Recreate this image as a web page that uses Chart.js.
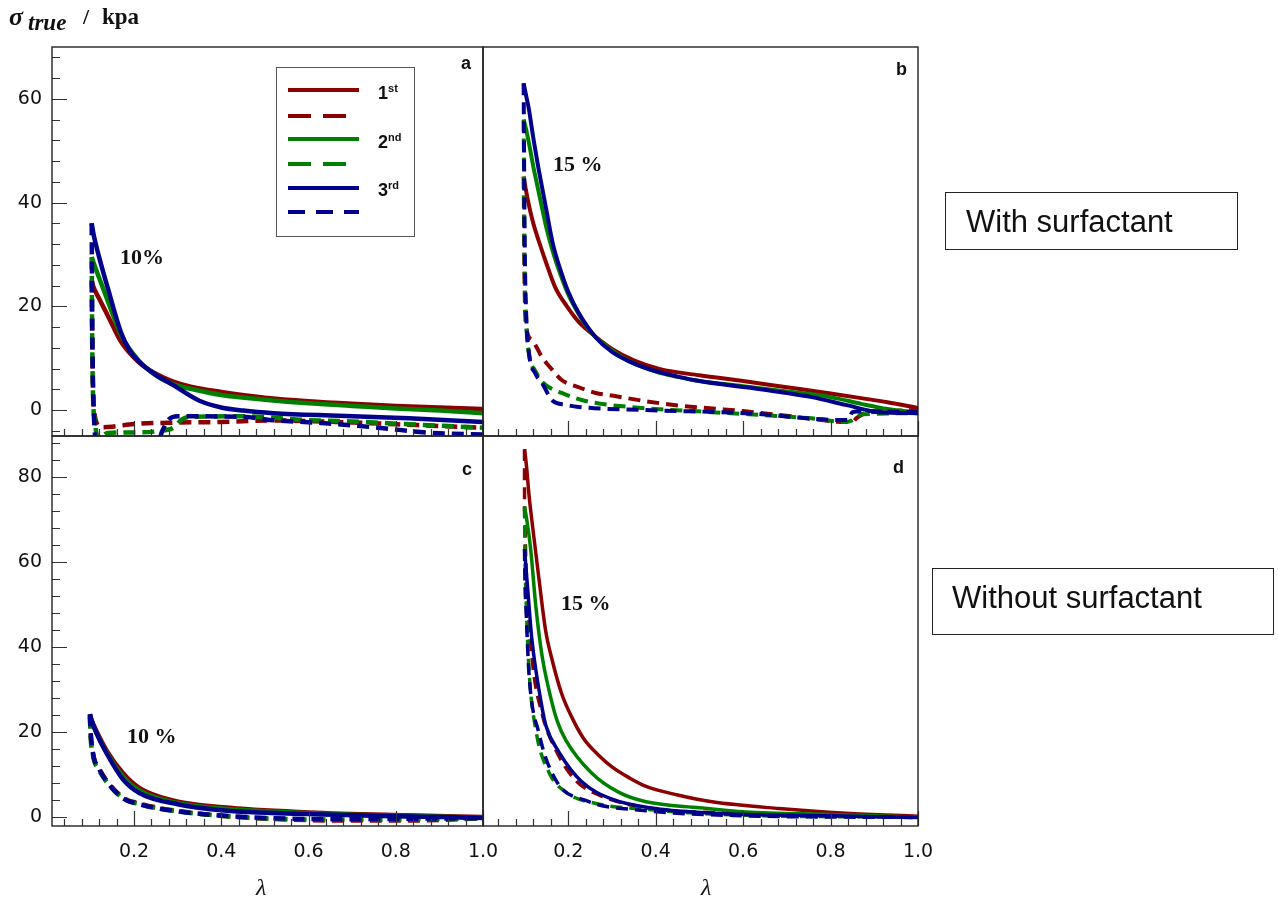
<!DOCTYPE html>
<html>
<head>
<meta charset="utf-8">
<script src="https://cdn.jsdelivr.net/npm/chart.js@4.4.1/dist/chart.umd.min.js"></script>
<style>
  body { margin: 0; background: #fff; width: 1278px; height: 901px; position: relative; overflow: hidden; }
  canvas.panel { position: absolute; left: 0; top: 0; }
  .t { position: absolute; white-space: nowrap; line-height: 1; color: #111; }
  .serif { font-family: "Liberation Serif", "Times New Roman", serif; }
  .sans { font-family: "Liberation Sans", Arial, sans-serif; }
  .box { position: absolute; border: 1.5px solid #222; box-sizing: border-box; }
  .leg { position: absolute; left: 288px; height: 4px; }
  sup { font-size: 11px; vertical-align: 7px; }
</style>
</head>
<body>
<canvas id="pa" class="panel" width="1278" height="901"></canvas>
<canvas id="pb" class="panel" width="1278" height="901"></canvas>
<canvas id="pc" class="panel" width="1278" height="901"></canvas>
<canvas id="pd" class="panel" width="1278" height="901"></canvas>

<!-- axis title -->
<div class="t serif" style="left:9px;top:4px;font-size:26px;font-weight:bold;font-style:italic;">σ</div>
<div class="t serif" style="left:28px;top:11px;font-size:23px;font-weight:bold;font-style:italic;">true</div>
<div class="t serif" style="left:83px;top:6px;font-size:22px;font-weight:bold;">/</div>
<div class="t serif" style="left:102px;top:5px;font-size:23px;font-weight:bold;">kpa</div>

<!-- legend in panel a -->
<div class="box" style="left:276px;top:67px;width:139px;height:170px;border-width:1.3px;border-color:#555;"></div>
<div class="leg" style="top:88px;width:71px;background:#8b0000;"></div>
<div class="leg" style="top:114px;width:59px;background:repeating-linear-gradient(to right,#8b0000 0 23px,transparent 23px 35px);"></div>
<div class="leg" style="top:137px;width:71px;background:#008000;"></div>
<div class="leg" style="top:162px;width:59px;background:repeating-linear-gradient(to right,#008000 0 23px,transparent 23px 35px);"></div>
<div class="leg" style="top:186px;width:71px;background:#00008b;"></div>
<div class="leg" style="top:210px;width:71px;background:repeating-linear-gradient(to right,#00008b 0 17px,transparent 17px 28px);"></div>
<div class="t sans" style="left:378px;top:83px;font-size:18px;font-weight:bold;">1<sup>st</sup></div>
<div class="t sans" style="left:378px;top:132px;font-size:18px;font-weight:bold;">2<sup>nd</sup></div>
<div class="t sans" style="left:378px;top:180px;font-size:18px;font-weight:bold;">3<sup>rd</sup></div>

<!-- panel letters -->
<div class="t sans" style="left:461px;top:54px;font-size:18px;font-weight:bold;">a</div>
<div class="t sans" style="left:896px;top:60px;font-size:18px;font-weight:bold;">b</div>
<div class="t sans" style="left:462px;top:460px;font-size:18px;font-weight:bold;">c</div>
<div class="t sans" style="left:893px;top:458px;font-size:18px;font-weight:bold;">d</div>

<!-- strain amplitude annotations -->
<div class="t serif" style="left:120px;top:246px;font-size:22px;font-weight:bold;">10%</div>
<div class="t serif" style="left:553px;top:153px;font-size:22px;font-weight:bold;">15 %</div>
<div class="t serif" style="left:127px;top:725px;font-size:22px;font-weight:bold;">10 %</div>
<div class="t serif" style="left:561px;top:592px;font-size:22px;font-weight:bold;">15 %</div>

<!-- x-axis titles -->
<div class="t serif" style="left:256px;top:875px;font-size:24px;font-style:italic;">λ</div>
<div class="t serif" style="left:701px;top:875px;font-size:24px;font-style:italic;">λ</div>

<!-- condition boxes -->
<div class="box" style="left:945px;top:192px;width:293px;height:58px;"></div>
<div class="t sans" style="left:966px;top:206px;font-size:31px;">With surfactant</div>
<div class="box" style="left:932px;top:568px;width:342px;height:67px;"></div>
<div class="t sans" style="left:952px;top:582px;font-size:31px;">Without surfactant</div>

<script>
// tick labels
const xTickLabels = [0.2, 0.4, 0.6, 0.8, 1.0];
const yTicksTop = [0, 20, 40, 60];
const yTicksBottom = [0, 20, 40, 60, 80];

// [lambda, sigma_true (kPa)]
// panel a: with surfactant, 10 %
const aLoad1 = [[1.0,0.2],[0.9,0.5],[0.8,0.8],[0.7,1.2],[0.6,1.7],[0.5,2.4],[0.4,3.5],[0.33,4.5],[0.29,5.5],[0.25,7.0],[0.21,9.3],[0.17,13.2],[0.14,18.2],[0.12,21.5],[0.106,24],[0.103,25]];
const aUnload1 = [[0.103,25],[0.104,14],[0.106,4],[0.109,-0.6],[0.125,-3.3],[0.15,-3.2],[0.2,-2.7],[0.3,-2.4],[0.4,-2.3],[0.52,-2.0],[0.7,-2.4],[0.85,-2.9],[1.0,-3.4]];
const aLoad2 = [[1.0,-0.6],[0.9,-0.1],[0.8,0.3],[0.7,0.8],[0.6,1.3],[0.5,2.0],[0.4,2.9],[0.33,4.1],[0.29,5.0],[0.25,6.7],[0.21,9.6],[0.17,14.5],[0.14,21],[0.12,25.5],[0.107,28.5],[0.103,29.5]];
const aUnload2 = [[0.103,29.5],[0.104,15],[0.106,3],[0.11,-2],[0.118,-5.5],[0.14,-4.4],[0.22,-4.3],[0.26,-4.0],[0.29,-3.4],[0.31,-1.8],[0.33,-1.3],[0.45,-1.2],[0.59,-1.9],[0.7,-2.2],[0.82,-2.7],[1.0,-3.4]];
const aLoad3 = [[1.0,-2.3],[0.83,-1.6],[0.67,-1.1],[0.52,-0.6],[0.45,-0.1],[0.4,0.5],[0.35,1.8],[0.29,4.8],[0.25,6.8],[0.213,9.2],[0.19,11.5],[0.17,15],[0.14,23.5],[0.12,29.5],[0.107,34],[0.103,36]];
const aUnload3 = [[0.103,36],[0.104,20],[0.106,5],[0.108,-1],[0.113,-6],[0.255,-6],[0.265,-4],[0.28,-1.8],[0.3,-1.2],[0.45,-1.3],[0.51,-1.9],[0.63,-2.5],[0.76,-3.4],[0.88,-4.4],[1.0,-4.7]];

// panel b: with surfactant, 15 %
const bLoad1 = [[1.0,0.4],[0.93,1.5],[0.87,2.3],[0.8,3.2],[0.7,4.4],[0.6,5.6],[0.5,6.7],[0.41,7.9],[0.35,9.6],[0.3,11.8],[0.25,15],[0.224,17],[0.197,20],[0.171,23.5],[0.149,28.5],[0.133,32.5],[0.12,36],[0.11,39.5],[0.103,42.5],[0.098,45]];
const bUnload1 = [[0.098,45],[0.1,25],[0.104,16],[0.117,13.5],[0.14,10.2],[0.163,7.8],[0.185,5.8],[0.224,4.4],[0.263,3.3],[0.3,2.8],[0.378,1.7],[0.45,0.9],[0.53,0.3],[0.6,-0.2],[0.72,-1.3],[0.835,-2.3],[0.85,-2.3],[0.86,-1.5],[0.88,-0.6],[1.0,0]];
const bLoad2 = [[1.0,-0.5],[0.93,0.2],[0.87,1.2],[0.8,2.5],[0.7,3.6],[0.6,4.6],[0.5,5.6],[0.45,6.4],[0.4,7.4],[0.34,9.4],[0.3,11.5],[0.25,15.2],[0.224,18.5],[0.2,22.3],[0.185,25.5],[0.165,30.5],[0.149,35.5],[0.14,39],[0.13,43],[0.12,47],[0.11,51.5],[0.104,54],[0.098,56]];
const bUnload2 = [[0.098,56],[0.1,30],[0.104,17],[0.11,11],[0.125,7.5],[0.14,5.5],[0.156,4.4],[0.185,3.3],[0.224,2.1],[0.247,1.6],[0.339,0.6],[0.529,-0.4],[0.757,-1.6],[0.835,-2.3],[0.848,-2.0],[0.858,-1.3],[0.875,-0.8],[1.0,-0.6]];
const bLoad3 = [[1.0,-0.6],[0.91,-0.4],[0.835,1.0],[0.757,2.5],[0.7,3.3],[0.606,4.4],[0.5,5.6],[0.453,6.4],[0.4,7.5],[0.339,9.4],[0.3,11.2],[0.263,14],[0.224,18.7],[0.2,22.8],[0.185,26.3],[0.165,32],[0.149,39],[0.14,43],[0.13,47.5],[0.12,52.5],[0.11,58],[0.104,60.5],[0.098,63]];
const bUnload3 = [[0.098,63],[0.1,35],[0.104,18],[0.11,11],[0.125,7],[0.14,5.2],[0.163,1.9],[0.195,1.0],[0.224,0.6],[0.378,0],[0.606,-0.6],[0.82,-1.9],[0.84,-1.9],[0.85,-0.4],[0.88,-0.2],[1.0,-0.4]];

// panel c: without surfactant, 10 %
const cLoad1 = [[1.0,0],[0.826,0.4],[0.6,1.1],[0.404,2.3],[0.289,3.9],[0.213,6.8],[0.175,10.3],[0.137,15.7],[0.115,20],[0.102,23],[0.099,24]];
const cUnload1 = [[0.099,24],[0.1,21],[0.106,15],[0.12,11.5],[0.137,8.6],[0.175,4.6],[0.213,3.2],[0.289,1.6],[0.44,0],[0.67,-0.8],[0.83,-0.8],[1.0,-0.3]];
const cLoad2 = [[1.0,-0.1],[0.8,0.3],[0.6,0.9],[0.4,2.0],[0.29,3.5],[0.213,6.2],[0.175,9.5],[0.137,15.2],[0.115,19.5],[0.102,22.7],[0.099,23.6]];
const cUnload2 = [[0.099,23.6],[0.1,20],[0.106,14.5],[0.12,11],[0.137,8.3],[0.175,4.4],[0.213,3.0],[0.289,1.5],[0.44,0],[0.67,-0.6],[0.83,-0.5],[1.0,-0.3]];
const cLoad3 = [[1.0,-0.2],[0.8,0.2],[0.6,0.7],[0.4,1.6],[0.3,3.0],[0.213,5.6],[0.175,8.8],[0.137,15],[0.115,19.5],[0.102,23],[0.099,24.2]];
const cUnload3 = [[0.099,24.2],[0.1,21],[0.106,15],[0.12,11.3],[0.137,8.4],[0.175,4.4],[0.213,3.0],[0.289,1.5],[0.44,0.1],[0.67,-0.5],[0.83,-0.4],[1.0,-0.2]];

// panel d: without surfactant, 15 %
const dLoad1 = [[1.0,0.2],[0.835,0.9],[0.682,2],[0.529,3.6],[0.45,5.2],[0.378,7.2],[0.34,9.2],[0.3,11.8],[0.27,14.5],[0.235,18.5],[0.208,23.5],[0.185,29],[0.163,37],[0.148,44],[0.133,56],[0.12,67],[0.11,76],[0.105,82],[0.1,86.5]];
const dUnload1 = [[0.1,86.5],[0.1,72],[0.103,60],[0.117,37.6],[0.14,24.4],[0.172,15.7],[0.217,8.6],[0.27,5.2],[0.378,2.2],[0.606,0.9],[0.8,0.3],[1.0,0]];
const dLoad2 = [[1.0,0],[0.8,0.6],[0.606,1.2],[0.5,2.2],[0.378,3.6],[0.316,5.8],[0.254,10.3],[0.195,18],[0.175,22.5],[0.156,29.8],[0.14,38],[0.126,49.4],[0.114,63],[0.105,70],[0.1,73]];
const dUnload2 = [[0.1,73],[0.101,62],[0.104,50],[0.11,35],[0.126,20.4],[0.156,10.5],[0.195,5.8],[0.263,3.2],[0.378,1.8],[0.606,0.4],[1.0,0]];
const dLoad3 = [[1.0,-0.1],[0.8,0.3],[0.529,0.9],[0.4,2.0],[0.3,4.2],[0.231,8.3],[0.178,15.4],[0.149,21.5],[0.14,25.8],[0.117,41.6],[0.11,50],[0.103,59],[0.1,63]];
const dUnload3 = [[0.1,63],[0.101,55],[0.103,50],[0.11,34],[0.133,19.7],[0.172,8.6],[0.24,3.9],[0.378,1.5],[0.606,0.3],[1.0,-0.1]];

const RED = '#8b0000', GREEN = '#008000', BLUE = '#00008b';
const PAGE_W = 1278, PAGE_H = 901;
const Y_AXIS_W = 45, X_AXIS_H = 60;

function toXY(pts) {
  return pts.map(p => ({ x: p[0], y: p[1] }));
}

// frame plus inward major/minor ticks, placed through the chart's own scales
const inwardTicks = {
  id: 'inwardTicks',
  afterDatasetsDraw(chart, args, opts) {
    const { ctx, chartArea: ca, scales: { x, y } } = chart;
    ctx.save();
    ctx.strokeStyle = '#333';
    ctx.lineWidth = 1.2;
    ctx.beginPath();
    for (let i = 1; i * 0.04 <= 1.0001; i++) {
      const v = i * 0.04;
      if (v < x.min) continue;
      const px = Math.round(x.getPixelForValue(v)) + 0.5;
      const len = i % 5 === 0 ? 15 : 7;
      ctx.moveTo(px, ca.bottom);
      ctx.lineTo(px, ca.bottom - len);
    }
    if (opts.left) {
      for (let v = Math.ceil(y.min / 4) * 4; v <= y.max; v += 4) {
        const py = Math.round(y.getPixelForValue(v)) + 0.5;
        const len = v % 20 === 0 ? 15 : 8;
        ctx.moveTo(ca.left, py);
        ctx.lineTo(ca.left + len, py);
      }
    }
    ctx.stroke();
    ctx.strokeStyle = '#222';
    ctx.lineWidth = 1.4;
    ctx.strokeRect(ca.left, ca.top, ca.width, ca.height);
    ctx.restore();
  }
};

function buildPanel(canvasId, area, xMin, yMin, yMax, yTicks, showX, showY, lineW, series) {
  const datasets = series.map(s => ({
    data: toXY(s.pts),
    borderColor: s.color,
    borderWidth: lineW,
    borderDash: s.dashed ? [12, 7] : [],
    borderJoinStyle: 'round',
    pointRadius: 0,
    showLine: true,
    fill: false,
    cubicInterpolationMode: 'monotone'
  }));
  const tickFont = { family: '"DejaVu Sans", sans-serif', size: 19 };
  return new Chart(document.getElementById(canvasId), {
    type: 'scatter',
    data: { datasets },
    options: {
      responsive: false,
      animation: false,
      events: [],
      layout: {
        autoPadding: false,
        padding: {
          left: area.left - Y_AXIS_W,
          top: area.top,
          right: PAGE_W - area.right,
          bottom: PAGE_H - area.bottom - X_AXIS_H
        }
      },
      plugins: {
        legend: { display: false },
        tooltip: { enabled: false },
        inwardTicks: { left: showY }
      },
      scales: {
        x: {
          type: 'linear', position: 'bottom', min: xMin, max: 1.0,
          grid: { display: false, drawTicks: false }, border: { display: false },
          afterBuildTicks: s => { s.ticks = xTickLabels.map(v => ({ value: v })); },
          afterFit: s => { s.height = X_AXIS_H; },
          ticks: { display: showX, padding: 15, color: '#111', font: tickFont, callback: v => v.toFixed(1) }
        },
        y: {
          type: 'linear', position: 'left', min: yMin, max: yMax,
          grid: { display: false, drawTicks: false }, border: { display: false },
          afterBuildTicks: s => { s.ticks = yTicks.map(v => ({ value: v })); },
          afterFit: s => { s.width = Y_AXIS_W; },
          ticks: { display: showY, padding: 10, color: '#111', font: tickFont }
        }
      }
    },
    plugins: [inwardTicks]
  });
}

function cycleSeries(l1, u1, l2, u2, l3, u3) {
  // first entries are drawn on top in Chart.js
  return [
    { pts: l3, color: BLUE }, { pts: u3, color: BLUE, dashed: true },
    { pts: l2, color: GREEN }, { pts: u2, color: GREEN, dashed: true },
    { pts: l1, color: RED }, { pts: u1, color: RED, dashed: true }
  ];
}

buildPanel('pa', { left: 52, top: 47, right: 483, bottom: 436 }, 0.012, -5, 70, yTicksTop, false, true, 4.5,
  cycleSeries(aLoad1, aUnload1, aLoad2, aUnload2, aLoad3, aUnload3));
buildPanel('pb', { left: 483, top: 47, right: 918, bottom: 436 }, 0.005, -5, 70, yTicksTop, false, false, 4,
  cycleSeries(bLoad1, bUnload1, bLoad2, bUnload2, bLoad3, bUnload3));
buildPanel('pc', { left: 52, top: 436, right: 483, bottom: 826 }, 0.012, -2.1, 89.6, yTicksBottom, true, true, 4.5,
  cycleSeries(cLoad1, cUnload1, cLoad2, cUnload2, cLoad3, cUnload3));
buildPanel('pd', { left: 483, top: 436, right: 918, bottom: 826 }, 0.005, -2.1, 89.6, yTicksBottom, true, false, 3.5,
  cycleSeries(dLoad1, dUnload1, dLoad2, dUnload2, dLoad3, dUnload3));
</script>
</body>
</html>
